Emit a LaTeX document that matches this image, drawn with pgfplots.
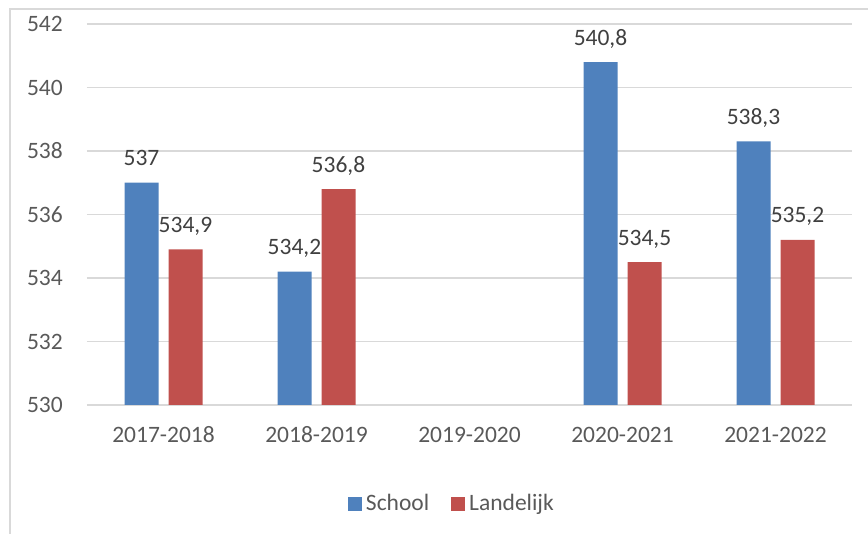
\documentclass[border=0pt]{standalone}
\usepackage{fontspec}
\setmainfont{Carlito}
\usepackage{pgfplots}
\usepackage{pgfplotstable}
\pgfplotsset{compat=1.18}
\definecolor{cBlue}{HTML}{4F81BD}
\definecolor{cRed}{HTML}{C0504D}
\definecolor{cGrid}{HTML}{D9D9D9}
\definecolor{cTick}{HTML}{595959}
\definecolor{cLabel}{HTML}{404040}

% 2019-2020 (x=2) has no data
\pgfplotstableread{
x school landelijk
0 537   534.9
1 534.2 536.8
3 540.8 534.5
4 538.3 535.2
}\scores

\begin{document}
\fontsize{23.5}{28}\selectfont
\begin{tikzpicture}
\useasboundingbox (0pt,0pt) rectangle (868pt,534pt);
\draw[cGrid, line width=1.5pt] (10pt,0pt) -- (10pt,525pt) -- (868pt,525pt);
\begin{axis}[
    at={(87pt,129pt)}, anchor=south west,
    scale only axis, width=765pt, height=381pt,
    ybar=10pt, bar width=34pt,
    xmin=-0.5, xmax=4.5, ymin=530, ymax=542,
    xtick={0,...,4},
    xticklabels={2017-2018,2018-2019,2019-2020,2020-2021,2021-2022},
    ytick={530,532,...,542},
    ymajorgrids, grid style={cGrid, line width=1.5pt},
    axis line style={draw=none}, major tick length=0pt,
    /pgf/number format/assume math mode=true,
    ticklabel style={text=cTick},
    yticklabel style={anchor=east, inner sep=0pt, xshift=-24pt},
    xticklabel style={anchor=base, inner sep=0pt, yshift=-38pt},
    nodes near coords={\pgfmathprintnumber[use comma]{\pgfplotspointmeta}},
    every node near coord/.append style={text=cLabel, anchor=base, inner sep=0pt, yshift=17pt},
    legend columns=2,
    legend style={draw=none, fill=none, at={(0.477,-0.26)}, anchor=center,
        text=cTick, /tikz/every even column/.append style={column sep=20pt}},
]
\addplot[fill=cBlue, draw=none,
    legend image code/.code={\fill[cBlue] (0pt,-7pt) rectangle (14pt,7pt); \path (16pt,0pt);}]
    table[x=x, y=school] {\scores};
\addlegendentry{School}
\addplot[fill=cRed, draw=none,
    legend image code/.code={\fill[cRed] (0pt,-7pt) rectangle (14pt,7pt); \path (16pt,0pt);}]
    table[x=x, y=landelijk] {\scores};
\addlegendentry{Landelijk}
\end{axis}
\end{tikzpicture}
\end{document}
